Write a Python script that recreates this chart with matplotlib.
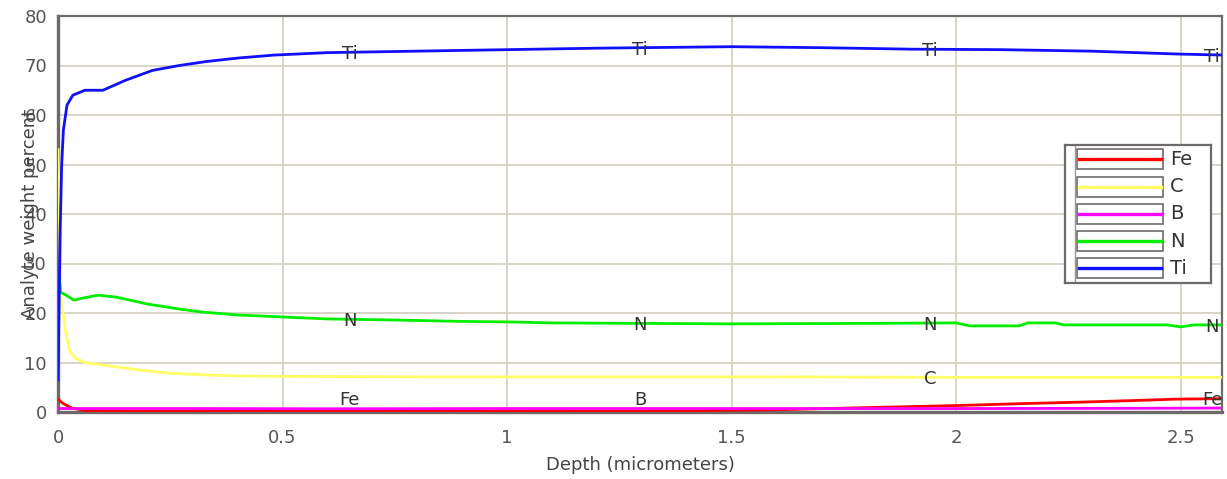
import numpy as np
import matplotlib
matplotlib.use("Agg")
from matplotlib import pyplot as plt
from matplotlib.patches import Rectangle

# 各元素深度剖面数据（从原图读取的折点）
names = ["Fe", "C", "B", "N", "Ti"]
colors = ["#ff0000", "#ffff66", "#ff00ff", "#00ee00", "#1010ff"]

fe_depth = [0, 0.01, 0.03, 0.06, 0.2, 0.6, 1.0, 1.4, 1.6, 1.76, 2.0, 2.15, 2.28, 2.39, 2.49, 2.6]
fe_value = [2.6, 1.8, 0.8, 0.3, 0.2, 0.2, 0.2, 0.25, 0.45, 0.8, 1.3, 1.7, 2.0, 2.3, 2.6, 2.7]

c_depth = [0, 0.003, 0.006, 0.015, 0.025, 0.038, 0.06, 0.1, 0.13, 0.18, 0.24, 0.3, 0.39, 0.5,
           0.8, 1.2, 1.6, 2.0, 2.6]
c_value = [53, 40, 24, 17, 12.5, 10.9, 10, 9.5, 9.1, 8.5, 7.9, 7.6, 7.3, 7.2,
           7.1, 7.1, 7.1, 7.0, 7.0]

b_depth = [0, 0.3, 0.6, 1.0, 1.5, 2.0, 2.4, 2.6]
b_value = [0.7, 0.7, 0.65, 0.7, 0.7, 0.7, 0.75, 0.8]

n_depth = [0, 0.003, 0.006, 0.02, 0.035, 0.06, 0.09, 0.13, 0.2, 0.27, 0.32, 0.4, 0.5, 0.6,
           0.74, 0.9, 1.0, 1.1, 1.3, 1.5, 1.8, 2.0, 2.03, 2.14, 2.16, 2.22, 2.24, 2.47,
           2.5, 2.53, 2.6]
n_value = [25.5, 27, 24.2, 23.5, 22.6, 23.1, 23.6, 23.2, 21.8, 20.8, 20.2, 19.6, 19.2, 18.8,
           18.6, 18.3, 18.2, 18.0, 17.9, 17.8, 17.9, 18.0, 17.4, 17.4, 18.0, 18.0, 17.6, 17.6,
           17.2, 17.6, 17.6]

ti_depth = [0, 0.005, 0.008, 0.012, 0.02, 0.033, 0.06, 0.1, 0.15, 0.21, 0.27, 0.33, 0.4, 0.48,
            0.6, 0.8, 1.0, 1.2, 1.4, 1.5, 1.7, 1.9, 2.1, 2.3, 2.5, 2.6]
ti_value = [6.5, 37, 49.5, 57, 62, 64, 65, 65, 67, 69, 70, 70.8, 71.5, 72.1,
            72.6, 72.9, 73.2, 73.5, 73.7, 73.8, 73.6, 73.3, 73.2, 72.9, 72.3, 72.1]

series = {
    "Fe": (fe_depth, fe_value),
    "C": (c_depth, c_value),
    "B": (b_depth, b_value),
    "N": (n_depth, n_value),
    "Ti": (ti_depth, ti_value),
}

# 曲线上的标注位置
label_slots = [0.65, 1.296, 1.942, 2.57]
label_names = [["Ti", "N", "Fe"], ["Ti", "N", "B"], ["Ti", "N", "C"], ["Ti", "N", "Fe"]]
label_floor = 2.8

x_ticks = [0, 0.5, 1, 1.5, 2, 2.5]
x_tick_labels = ["0", "0.5", "1", "1.5", "2", "2.5"]
y_ticks = [0, 10, 20, 30, 40, 50, 60, 70, 80]

W, H = 1227, 479
fig = plt.figure(figsize=(W / 100, H / 100), dpi=100)
ax = fig.add_axes([58 / W, 1 - 412 / H, (1222 - 58) / W, (412 - 16) / H])

for name, color in zip(names, colors):
    d, v = series[name]
    ax.plot(d, v, color=color, lw=2.0, solid_joinstyle="round", zorder=3)

# 曲线标签
for x, names_here in zip(label_slots, label_names):
    for name in names_here:
        d, v = series[name]
        y = max(np.interp(x, d, v), label_floor)
        ax.text(x, y - 0.4, name, ha="center", va="center", fontsize=13, color="#333333", zorder=4)

ax.set_xlim(0, 2.592)
ax.set_ylim(0, 80)
ax.set_xticks(x_ticks)
ax.set_xticklabels(x_tick_labels)
ax.set_yticks(y_ticks)
ax.grid(True, color="#d6d2c4", lw=1.3, zorder=0)
ax.set_axisbelow(True)
ax.tick_params(length=0, labelsize=13, labelcolor="#555555")
ax.tick_params(axis="x", pad=12)
ax.tick_params(axis="y", pad=8)
for side in ["left", "bottom"]:
    ax.spines[side].set_color("#6e6a6a")
    ax.spines[side].set_linewidth(2.4)
for side in ["top", "right"]:
    ax.spines[side].set_color("#6e6a6a")
    ax.spines[side].set_linewidth(1.6)

fig.text(640 / W, 1 - 465 / H, "Depth (micrometers)", ha="center", va="center",
         fontsize=13, color="#444444")
fig.text(30 / W, 1 - 214 / H, "Analyte weight percent", ha="center", va="center",
         rotation=90, fontsize=13, color="#444444")

# 图例（手工绘制，每个样线带框）
lx0, lx1, ly0, ly1 = 1065, 1211, 145, 283
lax = fig.add_axes([lx0 / W, 1 - ly1 / H, (lx1 - lx0) / W, (ly1 - ly0) / H])
lax.set_xlim(lx0, lx1)
lax.set_ylim(ly1, ly0)
lax.set_xticks([])
lax.set_yticks([])
for s in lax.spines.values():
    s.set_color("#6e6a6a")
    s.set_linewidth(1.6)
lax.axvline(1075, color="#9a9a9a", lw=1.0)
for i, (name, color) in enumerate(zip(names, colors)):
    yc = 159.5 + i * 27.2
    lax.add_patch(Rectangle((1077, yc - 10), 86, 20, fill=False, edgecolor="#6e6a6a", lw=1.2))
    lax.plot([1079, 1161], [yc, yc], color=color, lw=2.4)
    lax.text(1170, yc, name, ha="left", va="center", fontsize=14, color="#333333")

fig.savefig("out.png", dpi=100)
